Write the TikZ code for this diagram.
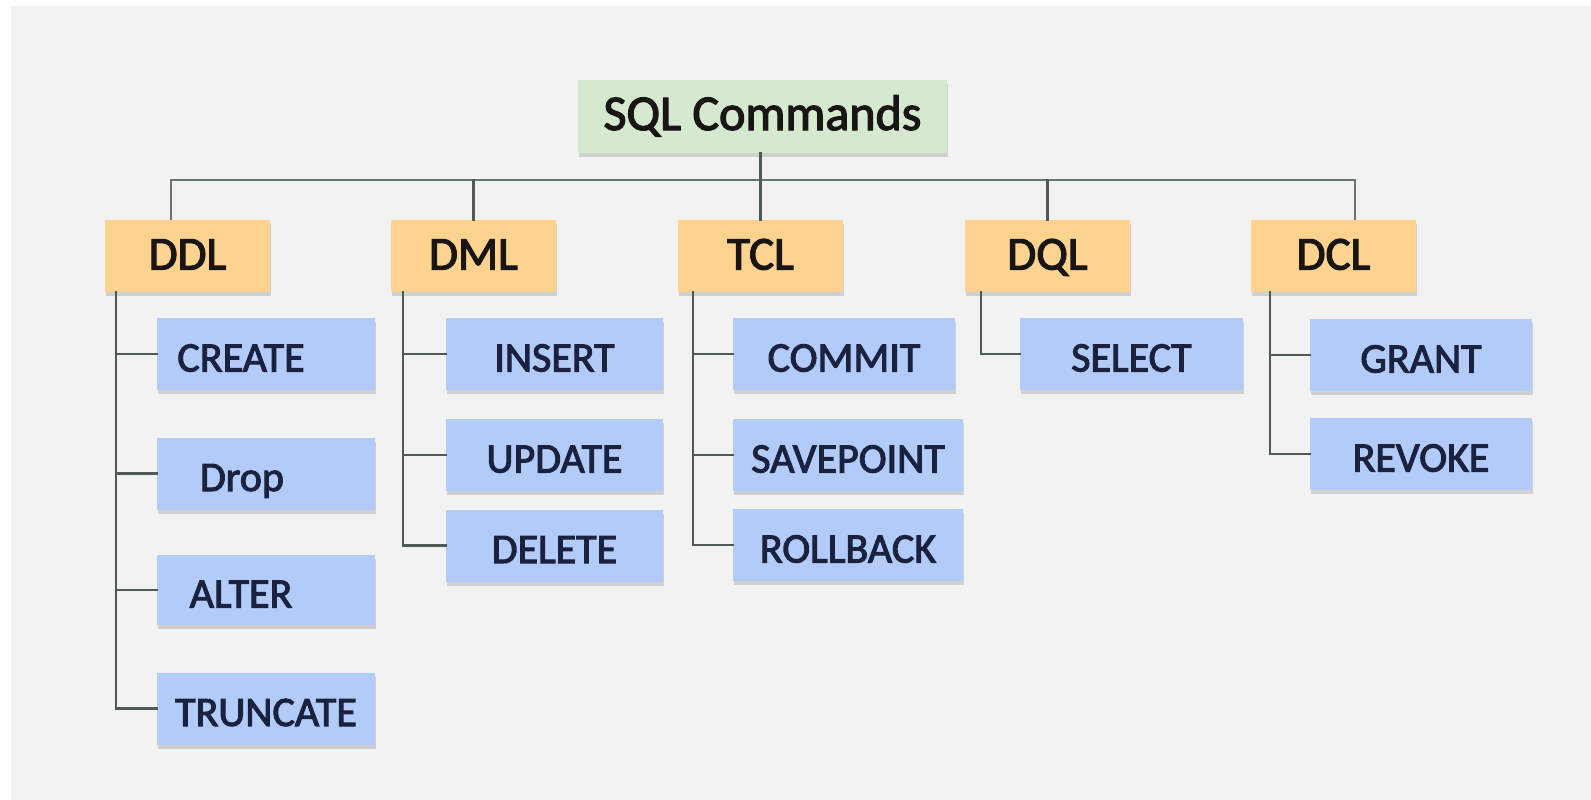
\documentclass[tikz,border=0pt]{standalone}
\usepackage{fontspec}
\setmainfont{Carlito}
\newfontfamily\semib{Carlito}[FakeBold=2.5]
\usetikzlibrary{shadows,calc}
\definecolor{bgc}{HTML}{F2F2F2}
\definecolor{grn}{HTML}{D4E9D0}
\definecolor{org}{HTML}{FDD38F}
\definecolor{blu}{HTML}{B2CBF8}
\definecolor{lnc}{HTML}{4F5A57}
\definecolor{navy}{HTML}{1B2240}
\definecolor{ink}{HTML}{1A1515}
\newcommand\mytxtshift[2]{#2\kern#1\relax}
\begin{document}
\begin{tikzpicture}[x=1pt,y=-1pt,
  boxbase/.style={rectangle,inner sep=0pt,anchor=center,text depth=0pt,
    drop shadow={shadow xshift=1pt,shadow yshift=-4pt,opacity=0.2,fill=black!70}},
  rootbox/.style={boxbase,fill=grn,minimum width=369pt,minimum height=73pt,
    text height=27pt,text=ink,font=\semib\fontsize{50}{52}\selectfont},
  catbox/.style={boxbase,fill=org,minimum width=165pt,minimum height=72pt,
    text height=27pt,text=ink,font=\semib\fontsize{47}{50}\selectfont},
  cmdbox/.style={boxbase,fill=blu,minimum height=72pt,
    text height=35pt,text=navy,font=\semib\fontsize{42}{44}\selectfont},
  link/.style={draw=lnc,line width=2.4pt,line cap=rect},
  bus/.style={draw=lnc!85,line width=2.6pt}]
\fill[white] (0,0) rectangle (1591,800);
\fill[bgc] (11,6) rectangle (1591,800);
\useasboundingbox (0,0) rectangle (1591,800);

% root
\node[rootbox] (root) at (762.5,116.5) {SQL Commands};
% categories
\node[catbox] (ddl) at (187.5,256) {DDL};
\node[catbox] (dml) at (473.5,256) {DML};
\node[catbox] (tcl) at (760.5,256) {TCL};
\node[catbox] (dql) at (1047.5,256) {DQL};
\node[catbox] (dcl) at (1333.5,256) {DCL};

% commands
\node[cmdbox,minimum width=218pt] (create) at (266,354) {\mytxtshift{50pt}{CREATE}};
\node[cmdbox,minimum width=218pt] (drop) at (266,473.5) {\mytxtshift{48pt}{Drop}};
\node[cmdbox,minimum width=218pt,minimum height=70pt] (alter) at (266,590) {\mytxtshift{50pt}{ALTER}};
\node[cmdbox,minimum width=218pt] (truncate) at (266,708.5) {TRUNCATE};

\node[cmdbox,minimum width=217pt] (insert) at (554.5,354) {INSERT};
\node[cmdbox,minimum width=217pt] (update) at (554.5,455) {UPDATE};
\node[cmdbox,minimum width=217pt] (delete) at (554.5,545.5) {DELETE};

\node[cmdbox,minimum width=222pt] (commit) at (844,354) {COMMIT};
\node[cmdbox,minimum width=230pt] (savepoint) at (848,455) {SAVEPOINT};
\node[cmdbox,minimum width=230pt] (rollback) at (848,545) {ROLLBACK};

\node[cmdbox,minimum width=223pt] (select) at (1131.5,354) {SELECT};

\node[cmdbox,minimum width=222pt] (grant) at (1421,355) {GRANT};
\node[cmdbox,minimum width=222pt] (revoke) at (1421,454) {REVOKE};

% bus
\coordinate (busL) at (171,180);
\coordinate (busR) at (1355,180);
\draw[bus] (busL |- ddl.north) -- (busL) -- (busR) -- (busR |- dcl.north);
\draw[link] (root.south -| tcl.north) -- (tcl.north);
\draw[link] (dml.north |- busL) -- (dml.north);
\draw[link] (dql.north |- busL) -- (dql.north);

% trees
\coordinate (ddlT) at ($(ddl.south west)+(11,0)$);
\draw[link] (ddlT) -- (ddlT |- truncate.west) -- (truncate.west);
\draw[link] (ddlT |- create.west) -- (create.west);
\draw[link] (ddlT |- drop.west) -- (drop.west);
\draw[link] (ddlT |- alter.west) -- (alter.west);

\coordinate (dmlT) at ($(dml.south west)+(12,0)$);
\draw[link] (dmlT) -- (dmlT |- delete.west) -- (delete.west);
\draw[link] (dmlT |- insert.west) -- (insert.west);
\draw[link] (dmlT |- update.west) -- (update.west);

\coordinate (tclT) at ($(tcl.south west)+(15,0)$);
\draw[link] (tclT) -- (tclT |- rollback.west) -- (rollback.west);
\draw[link] (tclT |- commit.west) -- (commit.west);
\draw[link] (tclT |- savepoint.west) -- (savepoint.west);

\coordinate (dqlT) at ($(dql.south west)+(16,0)$);
\draw[link] (dqlT) -- (dqlT |- select.west) -- (select.west);

\coordinate (dclT) at ($(dcl.south west)+(19,0)$);
\draw[link] (dclT) -- (dclT |- revoke.west) -- (revoke.west);
\draw[link] (dclT |- grant.west) -- (grant.west);
\end{tikzpicture}
\end{document}
